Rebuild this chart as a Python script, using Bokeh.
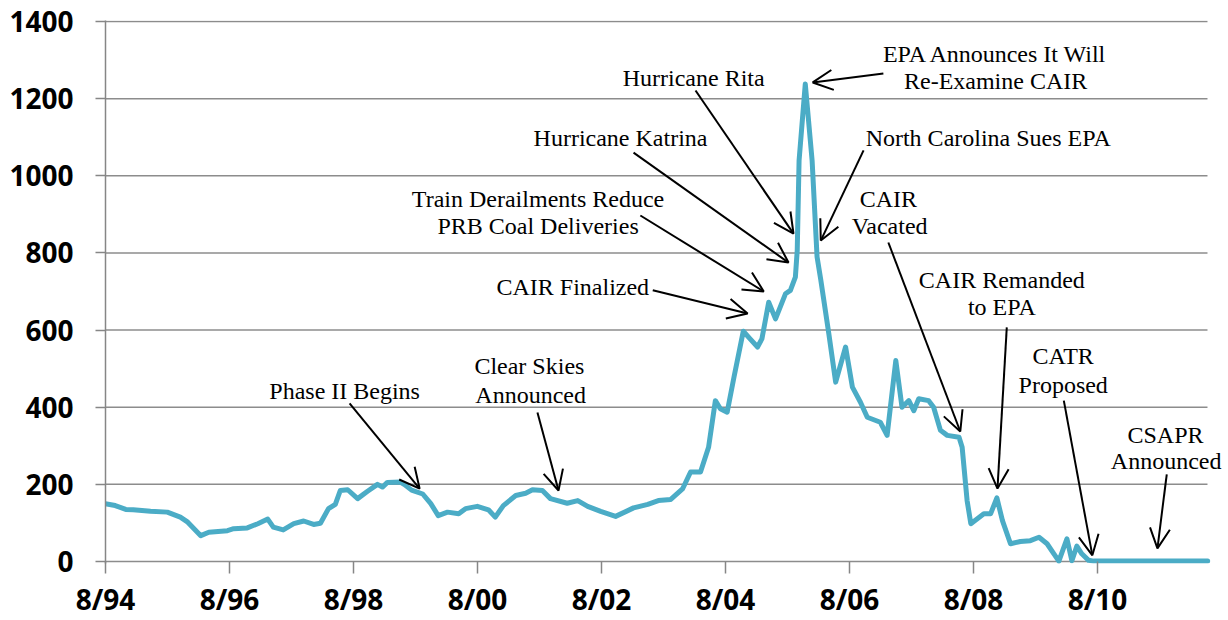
from bokeh.plotting import figure
from bokeh.models import (FixedTicker, Range1d, Arrow, OpenHead, ColumnDataSource,
                          CustomJSTickFormatter)
from bokeh.core.properties import value
from bokeh.embed import file_html
from bokeh.resources import INLINE

# ---- data: SO2 allowance price (decimal year, $/ton) ----
dates = [1994.58, 1994.74, 1994.91, 1995.03, 1995.31, 1995.58, 1995.79, 1995.91,
         1996.12, 1996.25, 1996.55, 1996.65, 1996.87, 1997.04, 1997.20, 1997.29,
         1997.45, 1997.62, 1997.78, 1997.94, 1998.05, 1998.18, 1998.29, 1998.37,
         1998.49, 1998.65, 1998.81, 1998.97, 1999.05, 1999.13, 1999.34, 1999.40,
         1999.52, 1999.70, 1999.83, 1999.95, 2000.10, 2000.28, 2000.39, 2000.58,
         2000.76, 2000.87, 2001.00, 2001.20, 2001.36, 2001.47, 2001.63, 2001.76,
         2002.03, 2002.20, 2002.36, 2002.57, 2002.81, 2003.10, 2003.33, 2003.50,
         2003.70, 2003.89, 2004.02, 2004.18, 2004.31, 2004.42, 2004.50, 2004.61,
         2004.72, 2004.87, 2004.98, 2005.10, 2005.17, 2005.28, 2005.39, 2005.55,
         2005.63, 2005.71, 2005.74, 2005.77, 2005.87, 2005.98, 2006.06, 2006.12,
         2006.25, 2006.36, 2006.52, 2006.63, 2006.76, 2006.87, 2007.08, 2007.19,
         2007.33, 2007.43, 2007.54, 2007.62, 2007.70, 2007.86, 2007.94, 2008.05,
         2008.16, 2008.35, 2008.40, 2008.48, 2008.54, 2008.75, 2008.86, 2008.96,
         2009.05, 2009.18, 2009.34, 2009.50, 2009.64, 2009.77, 2009.88, 2009.96,
         2010.09, 2010.17, 2010.25, 2010.33, 2010.44, 2010.52, 2011.44, 2012.36]
prices = [150, 145, 135, 134, 130, 128, 115, 102,
          67, 76, 80, 85, 87, 98, 110, 89,
          82, 98, 105, 96, 99, 137, 148, 184,
          186, 163, 182, 200, 193, 205, 206, 200,
          185, 175, 150, 119, 128, 124, 137, 143,
          134, 115, 145, 171, 177, 186, 184, 163,
          151, 158, 143, 130, 117, 139, 148, 158,
          161, 188, 232, 232, 296, 417, 396, 387,
          478, 597, 577, 556, 577, 672, 629, 694,
          703, 737, 806, 1040, 1238, 1040, 790, 730,
          590, 465, 556, 452, 413, 374, 361, 327,
          521, 400, 417, 391, 422, 417, 400, 340,
          327, 322, 296, 158, 98, 124, 124, 165,
          106, 46, 52, 54, 63, 46, 20, 1,
          59, 2, 40, 20, 3, 1, 1, 1]

y_ticks = [0, 200, 400, 600, 800, 1000, 1200, 1400]
x_tick_years = [1994, 1996, 1998, 2000, 2002, 2004, 2006, 2008, 2010]  # August of each

# ---- annotations: (text line, x, baseline y) ----
ann_text = ["Phase II Begins", "Clear Skies", "Announced", "CAIR Finalized",
            "Train Derailments Reduce", "PRB Coal Deliveries", "Hurricane Katrina",
            "Hurricane Rita", "EPA Announces It Will", "Re-Examine CAIR",
            "North Carolina Sues EPA", "CAIR", "Vacated", "CAIR Remanded", "to EPA",
            "CATR", "Proposed", "CSAPR", "Announced"]
ann_x = [1998.44, 2001.42, 2001.44, 2002.12,
         2001.56, 2001.56, 2002.89,
         2004.07, 2008.94, 2008.94,
         2008.82, 2007.21, 2007.23, 2009.04, 2009.04,
         2010.03, 2010.03, 2011.68, 2011.69]
ann_y = [420, 485, 412, 690,
         920, 850, 1076,
         1234, 1296, 1224,
         1078, 920, 850, 710, 638,
         511, 436, 308, 241]

arr_x0 = [1998.52, 2001.55, 2003.41, 2003.21, 2003.10, 2004.10, 2007.13, 2006.81,
          2007.21, 2009.12, 2010.04, 2011.70]
arr_y0 = [410, 386, 703, 897, 1060, 1221, 1265, 1066, 827, 607, 417, 226]
arr_x1 = [1999.65, 2001.89, 2004.94, 2005.20, 2005.60, 2005.68, 2005.99, 2006.12,
          2008.37, 2008.97, 2010.50, 2011.55]
arr_y1 = [189, 184, 643, 700, 775, 850, 1242, 832, 337, 189, 16, 34]

AUG = 7.0 / 12.0
X0 = 1994 + AUG          # left edge of the plot (8/94)
GRID_END = 2012.357      # right end of the horizontal gridlines

p = figure(width=1228, height=620, output_backend="svg", toolbar_location=None,
           x_range=Range1d(X0, 2012.696), y_range=Range1d(-5.19, 1402.59),
           min_border_left=105, min_border_right=0, min_border_top=20,
           min_border_bottom=57)
p.outline_line_color = None
p.background_fill_color = "white"
p.border_fill_color = "white"

p.xgrid.grid_line_color = None
p.ygrid.grid_line_color = None

# horizontal gridlines (ending before the right edge, as in the original)
p.segment(x0=[X0] * len(y_ticks), y0=y_ticks, x1=[GRID_END] * len(y_ticks), y1=y_ticks,
          line_color="#8c8c8c", line_width=1.5)

p.yaxis.ticker = FixedTicker(ticks=y_ticks)
p.xaxis.ticker = FixedTicker(ticks=[y + AUG for y in x_tick_years])
p.xaxis.formatter = CustomJSTickFormatter(code="""
    const yy = Math.round(tick - 7/12) % 100;
    return "8/" + String(yy).padStart(2, "0");
""")

for ax in (p.xaxis[0], p.yaxis[0]):
    ax.axis_line_color = "#868686"
    ax.axis_line_width = 1.5
    ax.major_tick_line_color = "#868686"
    ax.major_tick_line_width = 1.5
    ax.major_tick_out = 10
    ax.major_tick_in = 0
    ax.minor_tick_out = 0
    ax.minor_tick_in = 0
    ax.major_label_text_font = "Open Sans"
    ax.major_label_text_font_style = "bold"
    ax.major_label_text_font_size = "28px"
    ax.major_label_text_color = "black"
p.xaxis.axis_line_color = None
p.xaxis.major_tick_in = 2
p.yaxis.major_label_standoff = 22
p.xaxis.major_label_standoff = 6

p.line(dates, prices, line_color="#4BACC6", line_width=5,
       line_join="round", line_cap="round")

arr_src = ColumnDataSource(dict(x0=arr_x0, y0=arr_y0, x1=arr_x1, y1=arr_y1))
p.add_layout(Arrow(source=arr_src, x_start="x0", y_start="y0", x_end="x1", y_end="y1",
                   line_color="black", line_width=2,
                   end=OpenHead(size=20, line_color="black", line_width=2)))

p.text(ann_x, ann_y, text=ann_text, text_font=value("Liberation Serif"),
       text_font_size="24px", text_align="center", text_baseline="alphabetic",
       text_color="black", y_offset=-8)

open("out.html", "w").write(file_html(p, INLINE))
